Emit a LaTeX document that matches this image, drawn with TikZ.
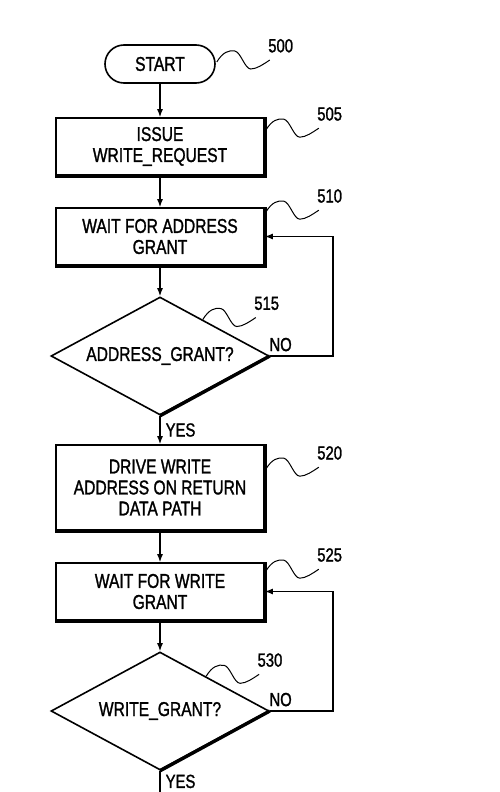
\documentclass[tikz,border=0pt]{standalone}
\usepackage{fontspec}
\setmainfont{Liberation Sans}[FakeStretch=0.78,FakeBold=1.3]
\usepackage{tikz}
\usetikzlibrary{calc}
\usetikzlibrary{positioning}
\usetikzlibrary{shapes.geometric, arrows.meta}

% wavy leader from a point on a shape to its reference numeral
\newcommand{\squiggle}[3]{%
  \coordinate (sq) at (#1);
  \draw[leader] (sq) .. controls ($(sq)+(6,-10)$) and ($(sq)+(12,-12)$) .. ($(sq)+(18,-11)$)
    .. controls ($(sq)+(24,-10)$) and ($(sq)+(28,7)$) .. ($(sq)+(34,7)$)
    .. controls ($(sq)+(40,7)$) and ($(sq)+(47,2)$) .. ($(sq)+(53,-2)$)
    node[tag,anchor=south west,xshift=-3pt,yshift=6pt] (#2) {#3};}

\begin{document}
\begin{tikzpicture}[x=1pt,y=1pt,yscale=-1,
    box/.style={draw,line width=1.6pt,minimum width=208pt,inner sep=2pt,align=center,font=\fontsize{20}{21}\selectfont},
    term/.style={draw,line width=1.6pt,rounded corners=19pt,minimum width=110pt,minimum height=38pt,font=\fontsize{20}{21}\selectfont},
    test/.style={draw,diamond,aspect=1.85,line width=1.6pt,minimum width=218pt,minimum height=118pt,inner sep=0pt,font=\fontsize{20}{21}\selectfont},
    flow/.style={line width=1.4pt,-{Latex[length=8pt,width=6pt]}},
    plain/.style={line width=1.4pt},
    shadowline/.style={line width=3.4pt},
    leader/.style={line width=1pt},
    tag/.style={font=\fontsize{19}{20}\selectfont,inner sep=1pt},
    answer/.style={font=\fontsize{19}{20}\selectfont,inner sep=1pt}]
\useasboundingbox (0,0) rectangle (500,792);

% steps
\node[term] (start) at (160,64) {START};
\node[box,minimum height=57pt] (issue) at (160,146.5) {ISSUE\\WRITE\_REQUEST};
\node[box,minimum height=57pt] (waitaddr) at (160,236.5) {WAIT FOR ADDRESS\\GRANT};
\node[test] (addrq) at (160,356) {ADDRESS\_GRANT?};
\node[box,minimum height=85pt] (drive) at (160,487.5) {DRIVE WRITE\\ADDRESS ON RETURN\\DATA PATH};
\node[box,minimum height=57pt] (waitwrite) at (160,591.5) {WAIT FOR WRITE\\GRANT};
\node[test] (writeq) at (160,711) {WRITE\_GRANT?};

\coordinate (loopA) at (333,356);
\coordinate (loopB) at (333,711);
\coordinate (exit) at (160,792);

% heavy bottom and right edges
\foreach \n in {issue,waitaddr,drive,waitwrite}
  \draw[shadowline] (\n.north east) -- (\n.south east) -- (\n.south west);
\foreach \n in {addrq,writeq}
  \draw[shadowline] (\n.east) -- (\n.south);

% flow
\draw[flow] (start) -- (issue);
\draw[flow] (issue) -- (waitaddr);
\draw[flow] (waitaddr) -- (addrq);
\draw[flow] (addrq) -- node[answer,right=4pt] (yesA) {YES} (drive);
\draw[flow] (addrq.east) node[answer,anchor=south west,xshift=-2pt,yshift=3pt] (noA) {NO} -- (loopA) |- (waitaddr.east);
\draw[flow] (drive) -- (waitwrite);
\draw[flow] (waitwrite) -- (writeq);
\draw[plain] (writeq) -- node[answer,right=4pt] (yesB) {YES} (exit);
\draw[flow] (writeq.east) node[answer,anchor=south west,xshift=-2pt,yshift=3pt] (noB) {NO} -- (loopB) |- (waitwrite.east);

% reference numerals
\squiggle{$(start.east)+(1,-2)$}{n500}{500}
\squiggle{$(issue.north east)+(1,13)$}{n505}{505}
\squiggle{$(waitaddr.north east)+(1,5)$}{n510}{510}
\squiggle{$(addrq.north)!0.39!(addrq.east)$}{n515}{515}
\squiggle{$(drive.north east)+(1,25)$}{n520}{520}
\squiggle{$(waitwrite.north east)+(1,9)$}{n525}{525}
\squiggle{$(writeq.north)!0.42!(writeq.east)$}{n530}{530}

\end{tikzpicture}
\end{document}
